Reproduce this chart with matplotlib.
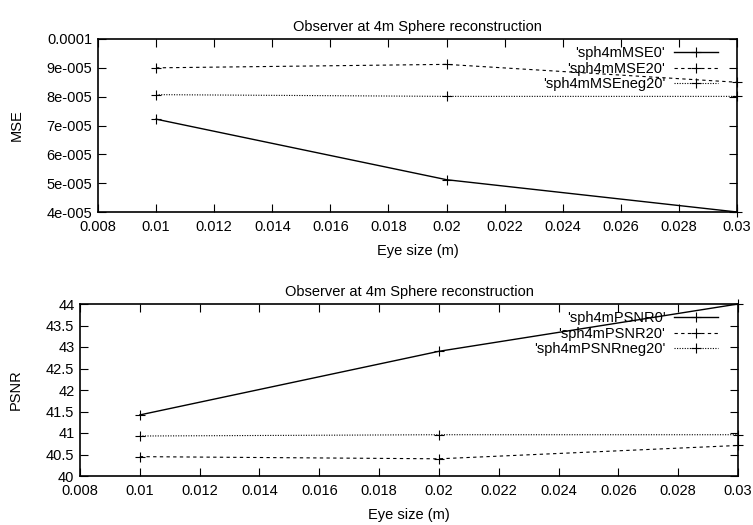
import matplotlib
matplotlib.use("Agg")
import matplotlib.pyplot as plt
from matplotlib.ticker import FixedLocator

plt.rcParams['font.family'] = ['Liberation Sans Narrow', 'Liberation Sans', 'DejaVu Sans']
plt.rcParams['font.size'] = 10.5

eye_size = [0.01, 0.02, 0.03]

mse0 = [7.22e-5, 5.12e-5, 4.0e-5]
mse20 = [9.0e-5, 9.12e-5, 8.5e-5]
mseneg20 = [8.07e-5, 8.01e-5, 8.01e-5]

psnr0 = [41.42, 42.9, 44.0]
psnr20 = [40.45, 40.4, 40.71]
psnrneg20 = [40.93, 40.96, 40.96]

x_ticks = [0.008, 0.01, 0.012, 0.014, 0.016, 0.018, 0.02, 0.022, 0.024, 0.026, 0.028, 0.03]
x_tick_labels = ['0.008', '0.01', '0.012', '0.014', '0.016', '0.018', '0.02', '0.022', '0.024', '0.026', '0.028', '0.03']
mse_ticks = [4e-5, 5e-5, 6e-5, 7e-5, 8e-5, 9e-5, 1e-4]
mse_tick_labels = ['4e-005', '5e-005', '6e-005', '7e-005', '8e-005', '9e-005', '0.0001']
psnr_ticks = [40, 40.5, 41, 41.5, 42, 42.5, 43, 43.5, 44]
psnr_tick_labels = ['40', '40.5', '41', '41.5', '42', '42.5', '43', '43.5', '44']

title = 'Observer at 4m Sphere reconstruction'
W, H = 753, 525
fig = plt.figure(figsize=(W / 100, H / 100), dpi=100)

def px_axes(l, t, r, b):
    return fig.add_axes([l / W, 1 - b / H, (r - l) / W, (b - t) / H])

ax1 = px_axes(98, 39, 737, 212)
ax2 = px_axes(80, 304, 738, 476)

dash = (0, (3, 3))
dot = (0, (1, 1.3))

def style(ax, yt, ytl, ylabel, ylim):
    ax.set_xlim(0.008, 0.03)
    ax.set_ylim(*ylim)
    ax.xaxis.set_major_locator(FixedLocator(x_ticks))
    ax.set_xticklabels(x_tick_labels)
    ax.yaxis.set_major_locator(FixedLocator(yt))
    ax.set_yticklabels(ytl)
    ax.tick_params(direction='in', length=6, width=0.8, top=True, right=True, pad=4)
    ax.tick_params(axis='x', pad=6)
    for s in ax.spines.values():
        s.set_linewidth(1.2)
    ax.set_ylabel(ylabel)
    ax.set_xlabel('Eye size (m)', labelpad=7)
    ax.set_title(title, pad=6, fontsize=10.5)

kw = dict(color='black', marker='+', markersize=6.5, markeredgewidth=0.8, linewidth=1.0, clip_on=False)
ax1.plot(eye_size, mse0, linestyle='-', label="'sph4mMSE0'", **kw)
ax1.plot(eye_size, mse20, linestyle=dash, label="'sph4mMSE20'", **{**kw, 'linewidth': 0.8})
ax1.plot(eye_size, mseneg20, linestyle=dot, label="'sph4mMSEneg20'", **{**kw, 'linewidth': 0.8})
style(ax1, mse_ticks, mse_tick_labels, 'MSE', (4e-5, 1e-4))
ax1.yaxis.set_label_coords(-0.116, 0.5)

ax2.plot(eye_size, psnr0, linestyle='-', label="'sph4mPSNR0'", **kw)
ax2.plot(eye_size, psnr20, linestyle=dash, label="'sph4mPSNR20'", **{**kw, 'linewidth': 0.8})
ax2.plot(eye_size, psnrneg20, linestyle=dot, label="'sph4mPSNRneg20'", **{**kw, 'linewidth': 0.8})
style(ax2, psnr_ticks, psnr_tick_labels, 'PSNR', (40, 44))
ax2.yaxis.set_label_coords(-0.087, 0.5)

for ax, anchor in ((ax1, (720 - 98) / (737 - 98)), (ax2, (720 - 80) / (738 - 80))):
    leg = ax.legend(loc='upper right', bbox_to_anchor=(anchor + 0.008, 1.0), frameon=False,
                    markerfirst=False, handlelength=3.0, handletextpad=0.6,
                    labelspacing=0.1, borderaxespad=0.3, fontsize=10.5, borderpad=0.2)
    for t in leg.get_texts():
        t.set_ha('right')

fig.savefig('out.png', dpi=100)
